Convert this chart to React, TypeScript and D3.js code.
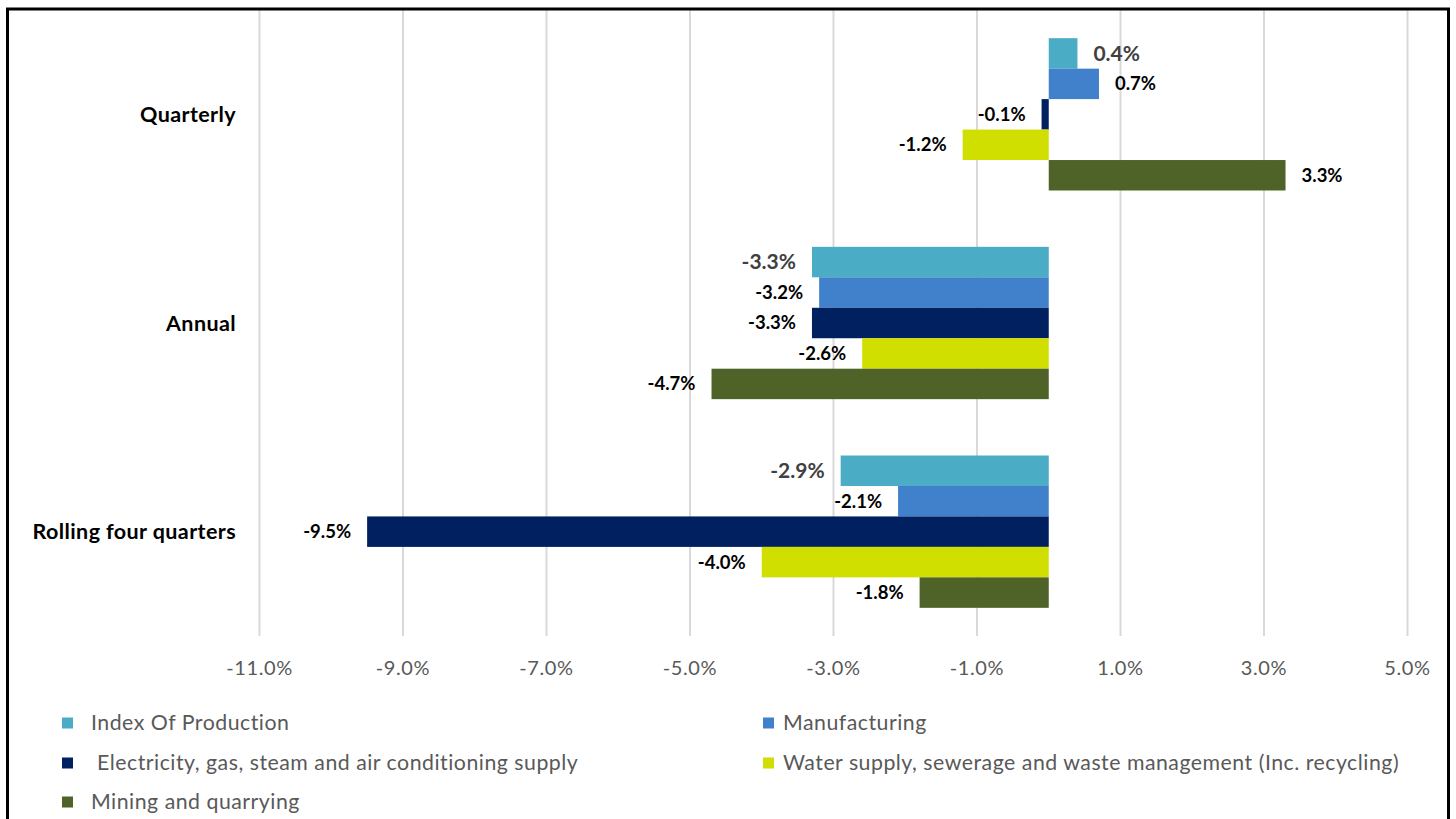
import React from "react";
import * as d3 from "d3";

const categories = ["Quarterly", "Annual", "Rolling four quarters"];
const seriesNames = [
  "Index Of Production",
  "Manufacturing",
  "Electricity, gas, steam and air conditioning supply",
  "Water supply, sewerage and waste management (Inc. recycling)",
  "Mining and quarrying",
];
const seriesColors = ["#4BACC6", "#4180CB", "#002060", "#D0DE00", "#4F6228"];
const indexValues = [0.4, -3.3, -2.9];
const manufacturingValues = [0.7, -3.2, -2.1];
const electricityValues = [-0.1, -3.3, -9.5];
const waterValues = [-1.2, -2.6, -4.0];
const miningValues = [3.3, -4.7, -1.8];
const tickValues = [-11, -9, -7, -5, -3, -1, 1, 3, 5];

const seriesValues = [indexValues, manufacturingValues, electricityValues, waterValues, miningValues];

const W = 1456;
const H = 819;
const FONT = "Lato, 'Open Sans', sans-serif";

export default function App() {
  const x = d3.scaleLinear().domain([-11, 5]).range([259.5, 1407.5]);
  const y = d3
    .scaleBand<string>()
    .domain(categories)
    .range([10, 636])
    .paddingInner(0.27)
    .paddingOuter(0.135);
  const ySub = d3
    .scaleBand<string>()
    .domain(seriesNames)
    .range([0, y.bandwidth()])
    .padding(0);

  const fmt = (v: number) => `${v.toFixed(1)}%`;

  const legendPos = [
    { x: 62, y: 723, tx: 91 },
    { x: 763, y: 723, tx: 783 },
    { x: 62, y: 763, tx: 97 },
    { x: 763, y: 763, tx: 783 },
    { x: 62, y: 802, tx: 91 },
  ];

  return (
    <svg
      width={W}
      height={H}
      style={{ position: "absolute", left: 0, top: 0, background: "#fff" }}
      fontFamily={FONT}
    >
      <rect x={0} y={0} width={W} height={H} fill="#fff" />
      {/* gridlines */}
      {tickValues.map((t) => (
        <line key={t} x1={x(t)} x2={x(t)} y1={10} y2={636} stroke="#D9D9D9" strokeWidth={2} />
      ))}
      {/* bars */}
      {categories.map((c, ci) =>
        seriesNames.map((s, si) => {
          const v = seriesValues[si][ci];
          const y0 = (y(c) as number) + (ySub(s) as number);
          const bh = ySub.bandwidth();
          const x0 = Math.min(x(0), x(v));
          const w = Math.abs(x(v) - x(0));
          const isIndex = si === 0;
          const lx = v >= 0 ? x(v) + 16 : x(v) - 16;
          return (
            <g key={`${c}-${s}`}>
              <rect x={x0} y={y0} width={w} height={bh} fill={seriesColors[si]} />
              <text
                x={lx}
                y={y0 + bh / 2}
                dy="0.35em"
                textAnchor={v >= 0 ? "start" : "end"}
                fontWeight="bold"
                fontSize={isIndex ? 21 : 18.5}
                fill={isIndex ? "#404040" : "#000"}
              >
                {fmt(v)}
              </text>
            </g>
          );
        })
      )}
      {/* category labels */}
      {categories.map((c) => (
        <text
          key={c}
          x={236}
          y={(y(c) as number) + y.bandwidth() / 2}
          dy="0.35em"
          textAnchor="end"
          fontWeight="bold"
          fontSize={21.5}
          letterSpacing={0.4}
          fill="#000"
        >
          {c}
        </text>
      ))}
      {/* tick labels */}
      {tickValues.map((t) => (
        <text
          key={t}
          x={x(t)}
          y={668}
          dy="0.35em"
          textAnchor="middle"
          fontSize={20}
          letterSpacing={0.6}
          fill="#595959"
        >
          {fmt(t)}
        </text>
      ))}
      {/* legend */}
      {seriesNames.map((s, i) => (
        <g key={s}>
          <rect x={legendPos[i].x} y={legendPos[i].y - 5.5} width={11} height={11} fill={seriesColors[i]} />
          <text
            x={legendPos[i].tx}
            y={legendPos[i].y}
            dy="0.35em"
            fontSize={21.3}
            letterSpacing={0.5}
            fill="#595959"
          >
            {s}
          </text>
        </g>
      ))}
      {/* border */}
      <rect x={7.5} y={9} width={1441} height={830} fill="none" stroke="#000" strokeWidth={3} />
    </svg>
  );
}
